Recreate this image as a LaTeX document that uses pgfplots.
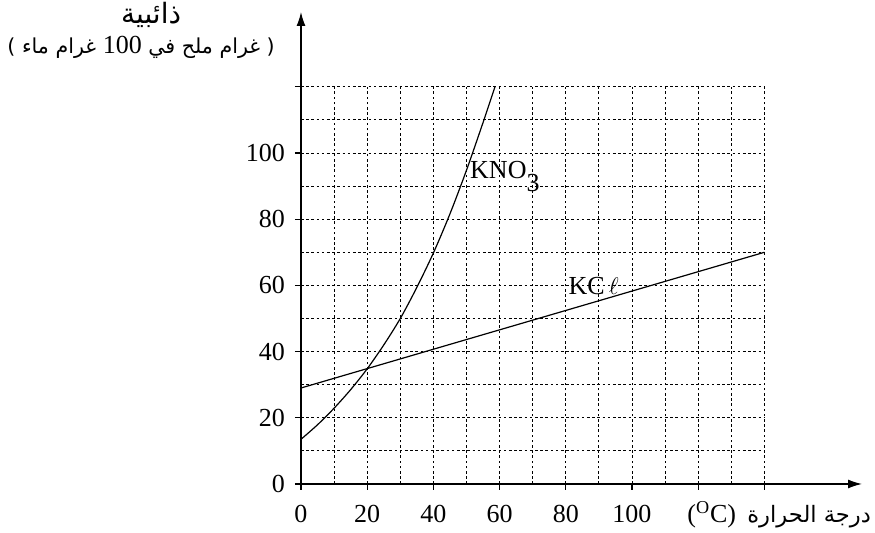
\documentclass[border=0pt]{standalone}
\usepackage{fontspec}
\setmainfont{Liberation Serif}
\newfontfamily\arabicfont[Script=Arabic]{DejaVu Sans}
\TeXXeTstate=1
\usepackage{pgfplots}
\pgfplotsset{compat=1.18}
\usetikzlibrary{arrows.meta}

\begin{document}
\begin{tikzpicture}
\useasboundingbox (0,0) rectangle (437.5pt,266.5pt);
\begin{axis}[
  at={(150.5pt,24.5pt)}, anchor=origin,
  x=1.655pt, y=1.655pt,
  xmin=0, xmax=169.5, ymin=0, ymax=142.6,
  axis lines=left,
  axis line style={line width=0.7pt, -{Latex[length=7pt,width=4.5pt]}},
  xtick={0,20,...,100}, ytick={0,20,...,100},
  extra x ticks={120,140}, extra x tick labels={},
  extra y ticks={120}, extra y tick labels={},
  tick align=outside, major tick length=3pt,
  tick style={black, line width=0.6pt},
  ticklabel style={font=\fontsize{13}{15}\selectfont},
  xticklabel style={yshift=-4pt},
  yticklabel style={xshift=-1.5pt},
  /pgf/number format/assume math mode=true,
  clip=false,
]
% grid
\pgfplotsinvokeforeach{10,20,...,140}{
  \draw[black, line width=0.45pt, dash pattern=on 1.3pt off 1.3pt] (axis cs:#1,0) -- (axis cs:#1,120);
}
\pgfplotsinvokeforeach{10,20,...,120}{
  \draw[black, line width=0.45pt, dash pattern=on 1.3pt off 1.3pt] (axis cs:0,#1) -- (axis cs:140,#1);
}
% KNO3
\addplot[black, line width=0.6pt, smooth] table {
x y
0 13.5
5 17.9
10 22.9
15 28.5
20 34.8
25 42.0
30 50.0
35 59.4
40 69.8
45 81.6
50 94.8
55 109.2
58.6 120
};
% KCl
\addplot[black, line width=0.6pt] table {
x y
0 29
140 70
};
\node[anchor=base west, font=\fontsize{13}{15}\selectfont, inner sep=0pt] at (axis cs:51,92.4) {KNO\raisebox{-6.5pt}{3}};
\node[anchor=base west, font=\fontsize{13}{15}\selectfont, inner sep=0pt] at (axis cs:80.7,57.3) {KC\,$\ell$};
% x label
\node[anchor=base west, font=\fontsize{13}{15}\selectfont, inner sep=0pt] at (axis cs:116.6,-11.5) {(\textsuperscript{O}C)};
\node[anchor=base east, font=\fontsize{11.3}{14}\selectfont, inner sep=0pt] at (axis cs:172.3,-11.5) {\arabicfont\beginR درجة الحرارة\endR};
% y label
\node[font=\fontsize{14}{16}\selectfont, inner sep=0pt] at (axis cs:-45.3,141.7) {\arabicfont\beginR ذائبية\endR};
\node[font=\fontsize{10.3}{14}\selectfont, inner sep=0pt] at (axis cs:-48.3,132) {\arabicfont\beginR ( غرام ملح في \beginL{\rmfamily\fontsize{13}{15}\selectfont 100}\endL{} غرام ماء )\endR};
\end{axis}
\end{tikzpicture}
\end{document}
